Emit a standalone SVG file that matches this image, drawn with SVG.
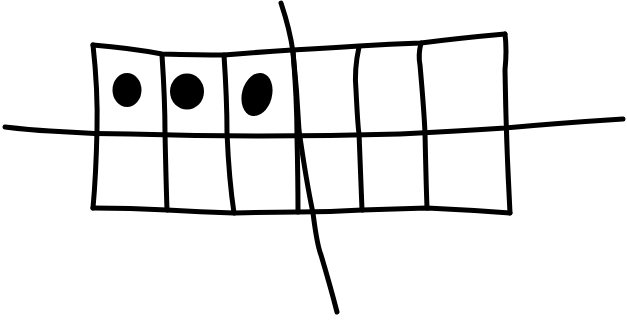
<svg xmlns="http://www.w3.org/2000/svg" width="627" height="320" viewBox="0 0 627 320">
<style>
.ln{fill:none;stroke:#000;stroke-width:5;stroke-linecap:round;stroke-linejoin:round}
.dot{fill:#000}
</style>
<rect width="627" height="320" fill="#fff"/>
<g id="grid">
<path class="ln" d="M93,45 Q130,48 162,54 Q200,55 224,55 Q260,52 292,50 Q330,48 359,46 Q390,44 421,43 Q460,38 505,34"/>
<path class="ln" d="M505,34 Q507,50 505,70 Q506,140 510,213"/>
<path class="ln" d="M93,208 Q130,208 167,210 Q200,212 234,213 Q270,212 298,212 Q330,212 362,210 Q395,209 427,208 Q470,210 510,213"/>
<path class="ln" d="M93,45 Q98,90 97,130 Q96,175 93,208"/>
<path class="ln" d="M162,55 Q165,100 165,133 Q166,180 167,210"/>
<path class="ln" d="M224,55 Q227,100 227,133 Q229,180 234,213"/>
<path class="ln" d="M293,52 Q297,100 297,137 Q298,180 298,212"/>
<path class="ln" d="M359,47 Q354,70 356,90 Q358,130 359,133 Q361,180 362,210"/>
<path class="ln" d="M421,43 Q418,55 420,65 Q424,110 425,133 Q426,180 427,208"/>
</g>
<g id="lines">
<path class="ln" d="M5,127 Q30,130 50,131 Q90,134 130,134 Q200,136 260,136 Q330,136 400,134 Q460,131 505,128 Q560,123 623,119"/>
<path class="ln" d="M281,3 Q290,30 293,52 Q297,90 299,130 Q306,180 313,213 Q317,245 321,255 Q330,285 337,312"/>
</g>
<g id="dots">
<ellipse class="dot" cx="127" cy="90" rx="14.5" ry="17"/>
<ellipse class="dot" cx="187" cy="91.5" rx="17" ry="18"/>
<ellipse class="dot" cx="257" cy="94.5" rx="15" ry="22" transform="rotate(15 257 94.5)"/>
</g>
</svg>
